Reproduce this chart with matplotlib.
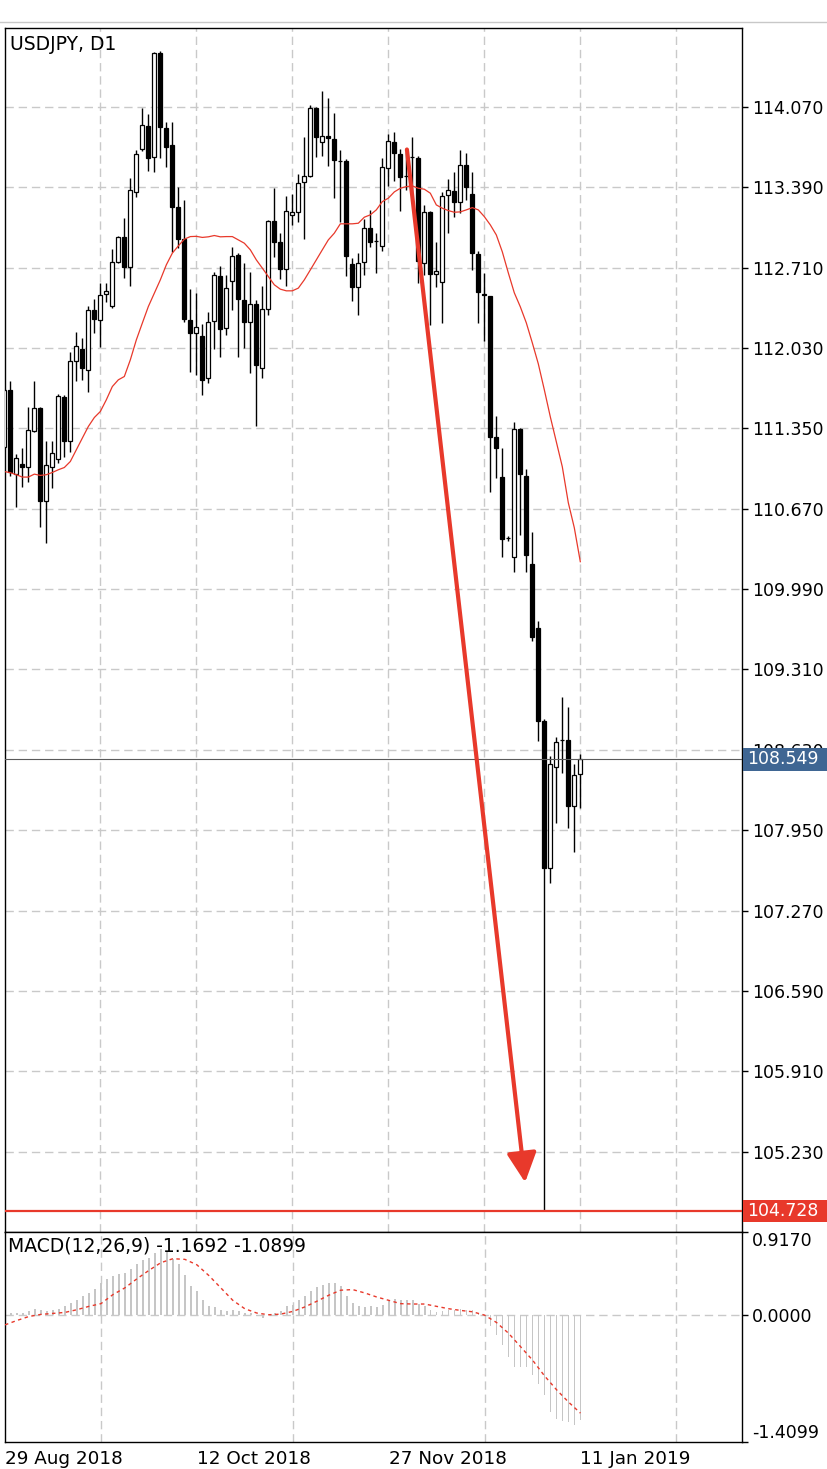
import matplotlib
matplotlib.use('Agg')
import matplotlib.pyplot as plt
from matplotlib.patches import Rectangle
from matplotlib.lines import Line2D
from matplotlib.transforms import blended_transform_factory

plt.rcParams['font.family'] = ['DejaVu Sans']

# ---- data (USDJPY D1) ----
opens = [111.194, 111.677, 110.966, 111.051, 111.025, 111.330, 111.524, 110.738, 111.025, 111.093,
         111.617, 111.245, 111.922, 112.023, 111.846, 112.353, 112.269, 112.488, 112.387, 112.759,
         112.971, 112.717, 113.351, 113.715, 113.909, 113.647, 114.527, 113.892, 113.749, 113.224,
         112.954, 112.269, 112.159, 112.133, 111.778, 112.260, 112.641, 112.201, 112.598, 112.818,
         112.438, 112.252, 112.404, 111.863, 112.362, 113.106, 112.928, 112.700, 113.157, 113.182,
         113.436, 113.486, 114.062, 113.774, 113.825, 113.799, 113.616, 113.613, 112.742, 112.548,
         112.759, 113.047, 112.937, 112.894, 113.554, 113.774, 113.673, 113.486, 113.647, 113.639,
         112.751, 113.182, 112.658, 112.590, 113.326, 113.360, 113.267, 113.580, 113.334, 112.827,
         112.488, 112.472, 111.279, 110.941, 110.425, 110.264, 111.347, 110.949, 110.205, 109.664,
         108.877, 107.634, 108.488, 108.716, 108.716, 108.158, 108.429]
closes = [111.677, 110.983, 111.101, 111.025, 111.338, 111.524, 110.738, 111.042, 111.144, 111.626,
          111.245, 111.922, 112.049, 111.863, 112.353, 112.277, 112.480, 112.514, 112.759, 112.971,
          112.717, 113.368, 113.673, 113.918, 113.639, 114.527, 113.901, 113.732, 113.224, 112.954,
          112.277, 112.159, 112.209, 111.761, 112.252, 112.649, 112.192, 112.539, 112.810, 112.446,
          112.252, 112.404, 111.888, 112.362, 113.106, 112.928, 112.700, 113.190, 113.182, 113.427,
          113.486, 114.062, 113.816, 113.825, 113.808, 113.622, 113.611, 112.810, 112.548, 112.751,
          113.047, 112.928, 112.933, 113.563, 113.783, 113.681, 113.478, 113.482, 113.643, 112.768,
          113.182, 112.658, 112.683, 113.317, 113.368, 113.267, 113.580, 113.393, 112.835, 112.505,
          112.480, 111.279, 111.186, 110.416, 110.421, 111.347, 110.966, 110.281, 109.587, 108.877,
          107.634, 108.513, 108.699, 108.712, 108.158, 108.420, 108.549]
highs = [111.736, 111.753, 111.135, 111.186, 111.533, 111.753, 111.533, 111.245, 111.245, 111.643,
         111.634, 111.998, 112.167, 112.116, 112.387, 112.446, 112.582, 112.582, 112.869, 112.979,
         113.131, 113.470, 113.706, 114.062, 114.011, 114.535, 114.544, 113.943, 113.943, 113.393,
         113.284, 112.531, 112.497, 112.235, 112.336, 112.675, 112.725, 112.649, 112.886, 112.835,
         112.751, 112.675, 112.438, 112.556, 113.114, 113.385, 113.004, 113.317, 113.334, 113.503,
         113.816, 114.087, 114.070, 114.205, 114.146, 114.019, 113.706, 113.630, 112.793, 112.835,
         113.123, 113.199, 113.004, 113.639, 113.842, 113.859, 113.715, 113.689, 113.816, 113.656,
         113.241, 113.190, 112.928, 113.351, 113.461, 113.520, 113.706, 113.681, 113.520, 112.852,
         112.666, 111.693, 111.457, 111.186, 110.442, 111.406, 111.355, 111.008, 110.476, 109.723,
         108.890, 108.581, 108.742, 109.080, 108.995, 108.513, 108.598]
lows = [111.127, 110.949, 110.687, 110.856, 110.898, 111.321, 110.518, 110.383, 110.848, 111.059,
        111.110, 111.152, 111.753, 111.761, 111.660, 112.159, 112.040, 112.421, 112.370, 112.751,
        112.624, 112.556, 113.309, 113.698, 113.529, 113.520, 113.639, 113.563, 112.844, 112.878,
        112.252, 111.829, 111.803, 111.634, 111.736, 112.023, 111.956, 112.142, 112.353, 111.956,
        112.032, 111.820, 111.372, 111.778, 112.311, 112.801, 112.615, 112.556, 113.072, 113.097,
        112.954, 113.478, 113.647, 113.656, 113.571, 113.300, 113.097, 112.641, 112.429, 112.311,
        112.649, 112.886, 112.666, 112.852, 113.402, 113.444, 113.190, 113.368, 113.284, 112.582,
        112.649, 112.226, 112.548, 112.243, 113.004, 113.140, 113.174, 113.284, 112.691, 112.243,
        112.091, 110.814, 110.932, 110.264, 110.399, 110.137, 110.450, 110.137, 109.554, 108.708,
        104.728, 107.507, 108.014, 108.437, 107.972, 107.769, 108.141]
ma = [110.985, 110.975, 110.958, 110.938, 110.938, 110.963, 110.952, 110.958, 110.977, 111.000,
      111.019, 111.070, 111.169, 111.268, 111.366, 111.442, 111.493, 111.592, 111.704, 111.761,
      111.789, 111.930, 112.099, 112.241, 112.381, 112.494, 112.607, 112.734, 112.833, 112.894,
      112.951, 112.973, 112.975, 112.966, 112.971, 112.982, 112.971, 112.973, 112.973, 112.945,
      112.917, 112.861, 112.776, 112.706, 112.635, 112.565, 112.528, 112.514, 112.514, 112.537,
      112.607, 112.691, 112.776, 112.861, 112.945, 113.002, 113.081, 113.081, 113.081, 113.086,
      113.137, 113.157, 113.199, 113.269, 113.298, 113.351, 113.382, 113.396, 113.402, 113.382,
      113.374, 113.340, 113.241, 113.213, 113.193, 113.179, 113.182, 113.199, 113.218, 113.199,
      113.142, 113.072, 112.987, 112.844, 112.666, 112.497, 112.379, 112.243, 112.074, 111.896,
      111.677, 111.448, 111.237, 111.025, 110.721, 110.509, 110.222]
macd_hist = [0.007, 0.015, 0.019, 0.019, 0.037, 0.063, 0.056, 0.045, 0.056, 0.067,
             0.100, 0.130, 0.167, 0.205, 0.242, 0.286, 0.353, 0.398, 0.428, 0.450,
             0.465, 0.502, 0.558, 0.606, 0.632, 0.688, 0.725, 0.696, 0.621, 0.558,
             0.446, 0.316, 0.260, 0.167, 0.093, 0.086, 0.056, 0.045, 0.056, 0.037,
             0.019, 0.019, -0.019, -0.037, -0.004, 0.019, 0.045, 0.093, 0.112, 0.167,
             0.205, 0.260, 0.309, 0.335, 0.353, 0.353, 0.324, 0.205, 0.130, 0.100,
             0.086, 0.093, 0.086, 0.112, 0.149, 0.175, 0.167, 0.167, 0.167, 0.123,
             0.093, 0.056, 0.030, 0.037, 0.056, 0.056, 0.063, 0.056, 0.048, 0.019,
             -0.019, -0.130, -0.223, -0.335, -0.465, -0.577, -0.577, -0.577, -0.670, -0.763,
             -0.893, -1.079, -1.153, -1.172, -1.190, -1.216, -1.1692]
signal_bars = list(range(0, 97, 2))
macd_signal = [-0.112, -0.063, -0.019, 0.004, 0.015, 0.026, 0.056, 0.093, 0.123, 0.223,
               0.298, 0.398, 0.491, 0.577, 0.621, 0.614, 0.554, 0.435, 0.298, 0.160,
               0.067, 0.019, 0.000, 0.007, 0.037, 0.086, 0.149, 0.216, 0.272, 0.279,
               0.242, 0.197, 0.160, 0.123, 0.119, 0.119, 0.093, 0.067, 0.048, 0.033,
               -0.004, -0.086, -0.205, -0.353, -0.502, -0.677, -0.830, -0.967, -1.0899]

price_ticks = [105.230, 105.910, 106.590, 107.270, 107.950, 108.630, 109.310, 109.990,
               110.670, 111.350, 112.030, 112.710, 113.390, 114.070]
date_bars = [0, 32, 64, 96]
date_labels = ['29 Aug 2018', '12 Oct 2018', '27 Nov 2018', '11 Jan 2019']
last_price = 108.549
low_price = 104.728

RED = '#e8392b'
BLUE = '#3f6693'
GRID = '#c9c9c9'
bars = list(range(len(opens)))

fig = plt.figure(figsize=(8.28, 14.69), dpi=100)
ax = fig.add_axes([5 / 828, 1 - 1232 / 1469, 737 / 828, 1204 / 1469])
ax2 = fig.add_axes([5 / 828, 1 - 1442 / 1469, 737 / 828, 210 / 1469])

xlim = (0.11, 122.95)
for a in (ax, ax2):
    a.set_xlim(*xlim)
    a.set_xticks([16, 32, 48, 64, 80, 96, 112], minor=True)
    a.grid(which='minor', axis='x', color=GRID, lw=1.0, ls=(0, (6, 3.5)))
    a.yaxis.tick_right()
    a.tick_params(axis='y', which='major', length=4, width=1, pad=3, labelsize=12.5, direction='out')
    a.tick_params(axis='x', which='both', length=0)
    for s in a.spines.values():
        s.set_linewidth(1.0)
    a.set_axisbelow(True)

# ---- main panel ----
ax.set_ylim(104.55, 114.738)
ax.set_yticks(price_ticks)
ax.set_yticklabels(['%.3f' % p for p in price_ticks])
ax.grid(which='major', axis='y', color=GRID, lw=1.0, ls=(0, (6, 3.5)))
ax.set_xticks([])

ax.vlines(bars, lows, highs, color='black', lw=1.0, zorder=3)
body_bottom = [min(o, c) for o, c in zip(opens, closes)]
body_height = [max(abs(c - o), 0.004) for o, c in zip(opens, closes)]
faces = ['white' if c > o else 'black' for o, c in zip(opens, closes)]
ax.bar(bars, body_height, bottom=body_bottom, width=0.72, color=faces,
       edgecolor='black', linewidth=0.9, zorder=4)

ax.plot(bars, ma, color=RED, lw=0.9, zorder=5)

ax.axhline(last_price, color='#5a5a5a', lw=0.8, zorder=6)
ax.axhline(low_price, color=RED, lw=1.6, zorder=6)

ax.annotate('', xy=(86.8, 104.97), xytext=(67.1, 113.71),
            arrowprops=dict(arrowstyle='-|>,head_length=0.9,head_width=0.45',
                            color=RED, lw=3.0, mutation_scale=20,
                            shrinkA=0, shrinkB=0), zorder=7)

ax.text(0.007, 0.986, 'USDJPY, D1', transform=ax.transAxes, fontsize=13.5,
        ha='left', va='center', color='black')

# price boxes on the right axis
trans = blended_transform_factory(fig.transFigure, ax.transData)
box_h = 0.19
for price, col in ((last_price, BLUE), (low_price, RED)):
    ax.add_patch(Rectangle((743 / 828, price - box_h / 2), 85 / 828, box_h,
                           transform=trans, facecolor=col, edgecolor='none',
                           clip_on=False, zorder=20))
    ax.text(747 / 828, price, '%.3f' % price, transform=trans, color='white',
            fontsize=12.5, ha='left', va='center', zorder=21, clip_on=False)

# ---- MACD panel ----
ax2.set_ylim(-1.4099, 0.917)
ax2.set_yticks([-1.4099, 0.0, 0.917])
ax2.set_yticklabels(['-1.4099', '0.0000', '0.9170'])
labs = ax2.get_yticklabels()
labs[0].set_va('bottom')
labs[2].set_va('top')
ax2.axhline(0, color=GRID, lw=1.0, ls=(0, (6, 3.5)), zorder=1)
ax2.bar(bars, macd_hist, width=0.3, color='#c6c6c6', zorder=2)
ax2.plot(signal_bars, macd_signal, color=RED, lw=1.0, ls=(0, (2.5, 2.5)), zorder=3)
ax2.text(0.004, 0.935, 'MACD(12,26,9) %.4f %.4f' % (macd_hist[-1], macd_signal[-1]),
         transform=ax2.transAxes, fontsize=13.5, ha='left', va='center')

ax2.set_xticks(date_bars)
ax2.set_xticklabels(date_labels, fontsize=13.2, ha='left')
ax2.tick_params(axis='x', which='major', pad=6)

fig.add_artist(Line2D([0, 1], [1 - 22 / 1469] * 2, color='#c8c8c8', lw=1.0))

fig.savefig('out.png', dpi=100)
